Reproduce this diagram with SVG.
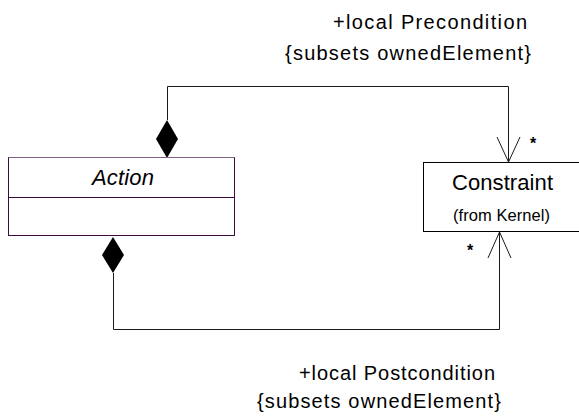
<svg xmlns="http://www.w3.org/2000/svg" width="579" height="418" viewBox="0 0 579 418">
<style>
text{font-family:"Liberation Sans",Arial,sans-serif;fill:#000}
.lbl{font-size:20px}
.star{font-size:16px;font-weight:bold}
.line{fill:none;stroke:#1a1a1a;stroke-width:1}
.box{fill:#fff;stroke:#000;stroke-width:1}
.abox{fill:#fff;stroke:#3c0a3c;stroke-width:1}
</style>
<rect width="579" height="418" fill="#fff"/>
<g id="connectors">
<path class="line" d="M167.5 120 V86.5 H508.5 V162"/>
<polygon points="167,120 178,139 167,158 156,139" fill="#000"/>
<polyline class="line" points="497,137 508.5,162 520,137"/>
<path class="line" d="M113.5 273 V329.5 H499.5 V232"/>
<polygon points="113,237 124,255 113,273 102,255" fill="#000"/>
<polyline class="line" points="488,258 499.5,232 511,258"/>
<text class="star" x="533" y="149" text-anchor="middle">*</text>
<text class="star" x="470" y="256" text-anchor="middle">*</text>
<text class="lbl" x="333" y="29" textLength="194" lengthAdjust="spacing">+local Precondition</text>
<text class="lbl" x="285" y="60" textLength="246" lengthAdjust="spacing">{subsets ownedElement}</text>
<text class="lbl" x="299" y="380" textLength="196" lengthAdjust="spacing">+local Postcondition</text>
<text class="lbl" x="257" y="408" textLength="244" lengthAdjust="spacing">{subsets ownedElement}</text>
</g>
<g id="Action">
<rect class="abox" x="8.5" y="157.5" width="226" height="78"/>
<line x1="8.5" y1="157.5" x2="234.5" y2="157.5" stroke="#806080"/>
<line x1="8.5" y1="197.5" x2="234.5" y2="197.5" stroke="#3c0a3c"/>
<text x="92" y="185" font-size="22" font-style="italic" textLength="62" lengthAdjust="spacing">Action</text>
</g>
<g id="Constraint">
<rect class="box" x="423.5" y="162.5" width="160" height="69"/>
<text x="452" y="190" font-size="22" textLength="101" lengthAdjust="spacing">Constraint</text>
<text x="453" y="221" font-size="16.5" textLength="97" lengthAdjust="spacing">(from Kernel)</text>
</g>
</svg>
